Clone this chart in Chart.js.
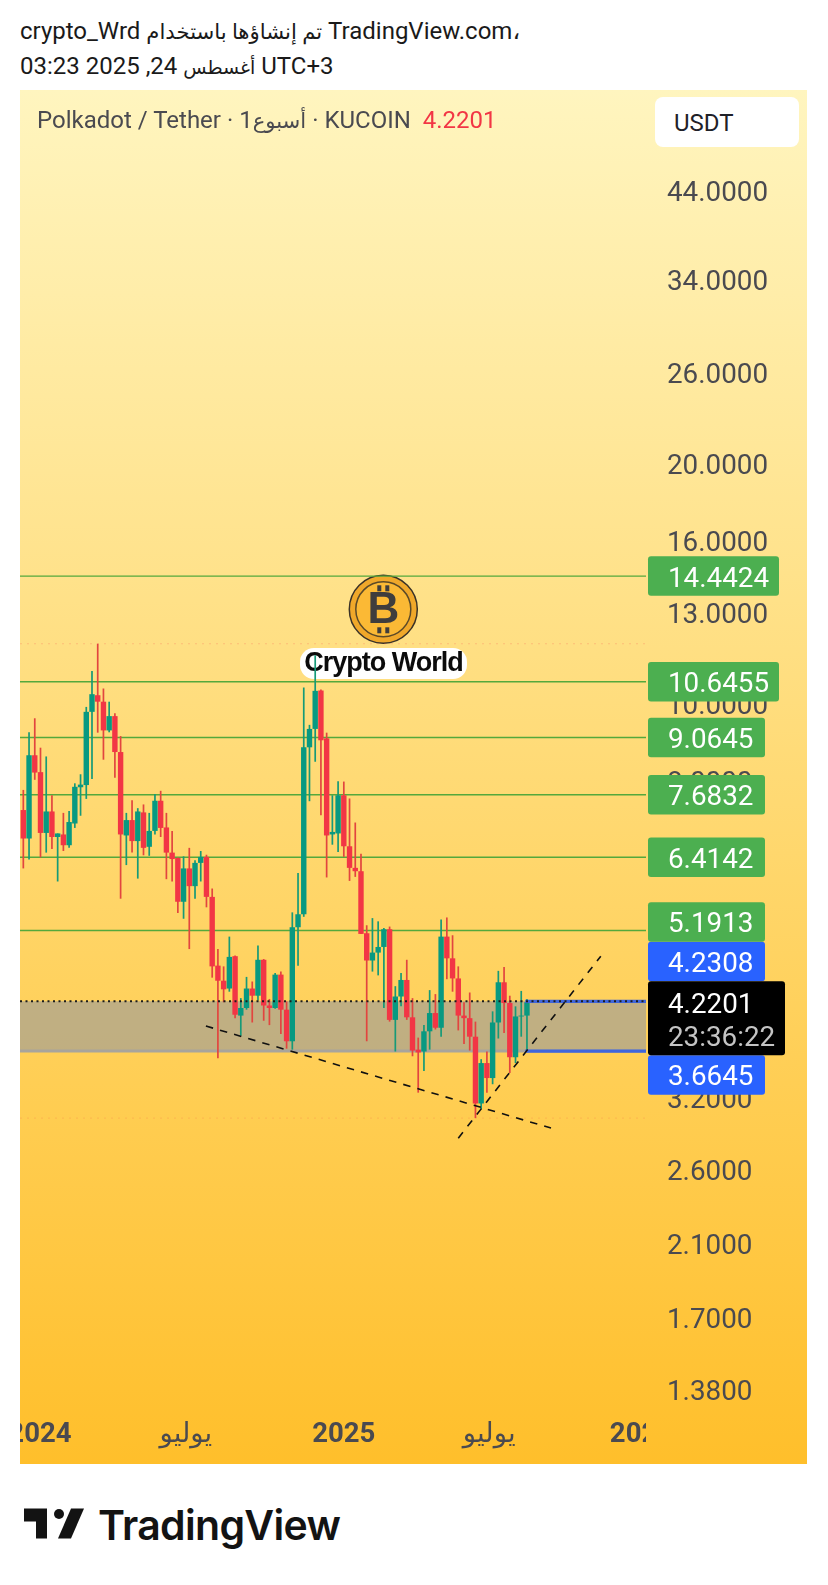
<!DOCTYPE html>
<html>
<head>
<meta charset="utf-8">
<title>Polkadot / Tether</title>
<script src="https://cdn.jsdelivr.net/npm/chart.js@4"></script>
<style>
  html, body { margin: 0; padding: 0; background: #fff; }
  body { width: 828px; height: 1585px; position: relative; overflow: hidden; font-family: Roboto, "DejaVu Sans", sans-serif; }
  .abs { position: absolute; white-space: nowrap; }
  .ar { font-size: 21.2px; }
  .ar2 { font-size: 19px; }
  #head { left: 20px; top: 14px; font-size: 24px; line-height: 34px; color: #1a1a1a; direction: ltr; }
  #chartBox { position: absolute; left: 20px; top: 90px; width: 787px; height: 1374px; }
  #pane { left: 37px; top: 106px; font-size: 24px; color: #4a4a50; direction: ltr; }
  #pane b { font-weight: 400; color: #f23645; margin-left: 6px; }
  #unit { left: 655px; top: 97px; width: 144px; height: 50px; line-height: 53px; background: #fff; border-radius: 8px; font-size: 24px; color: #1f2128; text-indent: 19px; }
  #brand { left: 98px; top: 1500px; font: 600 41px Inter, Roboto, sans-serif; letter-spacing: -0.7px; color: #131313; }
</style>
</head>
<body>
<div id="head" class="abs">
  <div>crypto_Wrd <bdi class="ar">تم إنشاؤها باستخدام</bdi> TradingView.com،</div>
  <div><bdi dir="ltr">03:23 2025 ,24</bdi> <bdi class="ar2">أغسطس</bdi> UTC+3</div>
</div>
<div id="chartBox"><canvas id="chart" width="787" height="1374"></canvas></div>
<div id="pane" class="abs">Polkadot / Tether · 1<bdi class="ar">أسبوع</bdi> · KUCOIN <b>4.2201</b></div>
<div id="unit" class="abs">USDT</div>
<svg class="abs" style="left:24px;top:1508px" width="60" height="31" viewBox="0 0 60 30" fill="#131313">
  <polygon points="0,0 23,0 23,30 12,30 12,13 0,13"/><circle cx="35" cy="5.5" r="5"/><polygon points="47,0 60,0 47,30 34,30"/>
</svg>
<div id="brand" class="abs">TradingView</div>

<script>
// weekly candles
const opens = [7.35,6.77,8.61,8.20,6.88,7.32,6.80,6.85,6.64,7.07,7.85,7.90,9.76,10.24,10.05,9.25,9.64,8.69,6.83,7.14,6.72,7.30,6.61,6.92,7.55,6.99,6.50,6.40,5.64,6.21,5.90,6.31,6.42,5.72,4.69,4.49,
  4.39,4.82,4.06,4.15,4.39,4.30,4.77,4.18,4.15,4.57,4.13,3.77,5.24,5.44,8.81,9.29,10.38,9.04,6.85,6.87,7.67,6.62,6.22,6.16,5.15,4.76,4.87,4.95,5.21,4.01,4.29,4.50,4.04,3.68,3.66,3.88,4.09,3.92,5.10,4.79,4.52,4.06,4.03,3.82,3.15,3.54,3.39,3.98,4.47,4.21,3.60,4.05,4.06];
const highs = [7.79,9.20,9.58,8.80,8.58,7.67,6.87,7.29,7.33,7.94,8.15,9.90,10.98,11.88,10.44,10.05,9.72,9.10,7.29,7.56,7.39,7.47,7.29,7.70,7.77,7.29,6.92,6.41,6.43,6.59,6.36,6.53,6.46,5.86,4.92,4.68,
  5.10,4.83,4.27,4.54,4.48,4.97,4.78,4.26,4.59,4.61,4.23,5.47,6.13,10.47,9.40,11.49,10.41,9.19,7.67,7.99,7.98,7.60,7.09,6.48,5.27,5.38,5.33,5.23,5.25,4.42,4.59,4.77,4.27,3.81,3.95,4.37,4.32,5.36,5.39,5.12,4.68,4.22,4.34,3.99,3.58,3.66,4.11,4.62,4.67,4.30,4.17,4.36,4.26];
const lows = [6.21,6.37,8.02,6.41,6.50,6.57,5.98,6.53,6.59,6.98,7.23,7.59,8.04,9.19,8.50,9.20,8.07,5.69,6.27,6.50,6.03,6.45,6.44,6.85,6.80,6.02,5.98,5.46,5.37,4.92,5.69,5.98,5.55,4.53,3.59,4.22,
  4.35,4.03,3.83,4.13,3.98,4.24,4.00,3.95,4.14,3.85,3.69,3.68,4.69,5.40,7.54,8.45,7.24,6.05,6.65,6.51,6.42,5.99,6.06,5.14,3.77,4.61,4.56,4.15,3.99,3.66,4.17,4.01,3.61,3.25,3.46,3.68,3.90,3.82,4.51,4.35,3.89,3.74,3.67,3.02,3.10,3.25,3.33,3.80,3.86,3.44,3.54,3.82,3.67];
const closes = [6.77,8.61,8.19,6.88,7.32,6.80,6.87,6.64,7.10,7.86,7.91,9.76,10.27,10.05,9.25,9.64,8.69,6.85,7.14,6.72,7.32,6.59,6.92,7.55,6.98,6.50,6.38,5.64,6.21,5.90,6.31,6.42,5.72,4.68,4.49,4.38,
  4.81,4.07,4.15,4.39,4.30,4.77,4.18,4.15,4.57,4.13,3.77,5.24,5.44,8.81,9.29,10.37,8.99,6.83,6.90,7.67,6.62,6.22,6.16,5.14,4.76,4.87,4.95,5.21,4.01,4.29,4.50,4.04,3.67,3.65,3.88,4.09,3.92,5.10,4.79,4.52,4.06,4.03,3.82,3.15,3.54,3.39,3.98,4.47,4.21,3.60,4.05,4.06,4.2201];

const yTicks = [44, 34, 26, 20, 16, 13, 10, 8, 3.2, 2.6, 2.1, 1.7, 1.38];
const xTicks = [2.9, 28.4, 56, 81.4, 108];
const xLabels = ['2024', 'يوليو', '2025', 'يوليو', '2026'];

const greenLevels = [14.4424, 10.6455, 9.0645, 7.6832, 6.4142, 5.1913];
const zoneTop = 4.2308;
const zoneBottom = 3.6645;
const lastPrice = 4.2201;
const countdown = '23:36:22';
const highMark = 11.88;
const lowMark = 3.02;

// drawn trend lines: [week, price]
const fallingLine = [[31.9, 3.94], [92.2, 2.934]];
const risingLine = [[76.0, 2.85], [100.9, 4.82]];

const xMin = -0.58, xMax = 108.8, yMax = 58.78, yMin = 1.30;
const bull = '#089981', bear = '#f23645';

const indices = opens.map((_, i) => i);
const candleColors = indices.map(i => closes[i] >= opens[i] ? bull : bear);
const wickColors = indices.map(i => closes[i] >= opens[i] ? '#169a78' : '#e2453f');

function hLine(price, from, to, color, width, dash, order, extra) {
  return Object.assign({
    type: 'line',
    data: [{ x: from, y: price }, { x: to, y: price }],
    borderColor: color,
    borderWidth: width,
    borderDash: dash || [],
    pointRadius: 0,
    order: order
  }, extra || {});
}

function trend(points, dash) {
  return {
    type: 'line',
    data: points.map(p => ({ x: p[0], y: p[1] })),
    borderColor: '#111',
    borderWidth: 1.6,
    borderDash: dash,
    pointRadius: 0,
    order: 0
  };
}

function roundBox(ctx, x, y, w, h, r, color) {
  ctx.fillStyle = color;
  ctx.beginPath();
  ctx.roundRect(x, y, w, h, r);
  ctx.fill();
}

function bgGradient(c) {
  const g = c.ctx.createLinearGradient(0, 0, 0, c.height);
  g.addColorStop(0, '#fff5bf');
  g.addColorStop(1, '#ffbf2b');
  return g;
}

function drawCoin(ctx) {
  const cx = 363.3, cy = 519.3;
  ctx.save();
  ctx.beginPath(); ctx.arc(cx, cy, 34, 0, Math.PI * 2);
  ctx.fillStyle = '#f0a82a'; ctx.fill();
  ctx.lineWidth = 1.5; ctx.strokeStyle = '#3a3228'; ctx.stroke();
  ctx.beginPath(); ctx.arc(cx, cy, 27.5, 0, Math.PI * 2);
  ctx.fillStyle = '#fbb935'; ctx.fill();
  ctx.lineWidth = 1.5; ctx.strokeStyle = '#5c4a28'; ctx.stroke();
  ctx.fillStyle = '#3f3d3d';
  [-6, 2].forEach(dx => {
    ctx.fillRect(cx + dx, cy - 24, 4, 48);
  });
  ctx.font = '700 44px "Liberation Sans"';
  ctx.textAlign = 'center';
  ctx.textBaseline = 'middle';
  ctx.fillStyle = '#fbb935';
  ctx.fillRect(cx - 8, cy - 18, 16, 36);
  ctx.fillStyle = '#3f3d3d';
  ctx.fillText('B', cx, cy + 2);
  ctx.restore();
}

const decorPlugin = {
  id: 'decor',
  beforeDraw(c) {
    c.ctx.save();
    c.ctx.fillStyle = bgGradient(c);
    c.ctx.fillRect(0, 0, c.width, c.height);
    c.ctx.restore();
  },
  beforeDatasetsDraw(c) {
    const ctx = c.ctx;
    // the time axis is cut where the pane ends
    ctx.save();
    ctx.fillStyle = bgGradient(c);
    ctx.fillRect(c.chartArea.right, c.chartArea.bottom, c.width - c.chartArea.right, c.height - c.chartArea.bottom);
    drawCoin(ctx);
    roundBox(ctx, 280, 558, 167, 31, 14, '#fff');
    ctx.fillStyle = '#0b0b0b';
    ctx.font = '700 27px "Liberation Sans"';
    ctx.letterSpacing = '-1px';
    ctx.textAlign = 'center';
    ctx.textBaseline = 'middle';
    ctx.fillText('Crypto World', 363.5, 574);
    ctx.restore();
  },
  afterDraw(c) {
    const ctx = c.ctx, y = c.scales.y;
    const left = c.chartArea.right + 2, h = 39.5, textX = left + 20;
    ctx.save();
    ctx.font = '400 27.8px Roboto';
    ctx.textBaseline = 'middle';
    ctx.textAlign = 'left';

    const lastY = y.getPixelForValue(lastPrice);
    const blackTop = lastY - 21, blackBottom = lastY + 53;

    // price tags get pushed away from each other as on the real chart
    let limit = blackTop;
    const upper = [zoneTop].concat(greenLevels.slice().reverse());
    upper.forEach(p => {
      const py = y.getPixelForValue(p);
      const cy = Math.min(py, limit - h / 2);
      limit = cy - h / 2;
      const isBlue = p === zoneTop;
      const wide = p >= 10;
      roundBox(ctx, left, cy - h / 2, wide ? 131 : 117, h, 3, isBlue ? '#2962ff' : '#4caf50');
      ctx.fillStyle = '#fff';
      ctx.fillText(p.toFixed(4), textX, cy + 3.5);
    });

    const lowCy = Math.max(y.getPixelForValue(zoneBottom), blackBottom + h / 2);
    roundBox(ctx, left, lowCy - h / 2, 117, h, 3, '#2962ff');
    ctx.fillStyle = '#fff';
    ctx.fillText(zoneBottom.toFixed(4), textX, lowCy + 3.5);

    roundBox(ctx, left, blackTop, 137, blackBottom - blackTop, 3, '#000');
    ctx.fillStyle = '#fff';
    ctx.fillText(lastPrice.toFixed(4), textX, lastY + 3.5);
    ctx.fillStyle = '#c4c4c4';
    ctx.fillText(countdown, textX, lastY + 37);
    ctx.restore();
  }
};

const greenSets = greenLevels.map(p => hLine(p, xMin, xMax, '#55a83c', 1.4, [], 6));

new Chart(document.getElementById('chart'), {
  type: 'bar',
  data: {
    datasets: [
      hLine(zoneTop, xMin, xMax, 'rgba(0,0,0,0)', 0, [], 8, { fill: { value: zoneBottom }, backgroundColor: 'rgba(129,142,170,0.5)' }),
      ...greenSets,
      hLine(highMark, xMin, xMax, 'rgba(242,54,69,0.2)', 1.2, [2, 5], 7),
      hLine(lowMark, xMin, xMax, 'rgba(242,54,69,0.12)', 1.2, [2, 5], 7),
      hLine(zoneBottom, xMin, xMax, '#a8a49c', 3, [], 5),
      {
        type: 'bar',
        data: indices.map(i => ({ x: i, y: [lows[i], highs[i]] })),
        backgroundColor: wickColors,
        barThickness: 1.7,
        grouped: false,
        inflateAmount: 0,
        order: 3
      },
      {
        type: 'bar',
        data: indices.map(i => ({ x: i, y: [opens[i], closes[i]] })),
        backgroundColor: candleColors,
        barThickness: 5.4,
        grouped: false,
        inflateAmount: 0,
        order: 2
      },
      hLine(zoneTop, 87.7, xMax, '#3f66dc', 3.2, [], 1),
      hLine(zoneBottom, 87.7, xMax, '#3f66dc', 3.2, [], 1),
      hLine(zoneTop, xMin, xMax, '#1c1c1c', 2, [2, 3.5], 0),
      trend(fallingLine, [7.5, 7.2]),
      trend(risingLine, [7.5, 7.5])
    ]
  },
  options: {
    responsive: false,
    animation: false,
    devicePixelRatio: 1,
    layout: { padding: 0 },
    plugins: { legend: { display: false }, tooltip: { enabled: false } },
    scales: {
      x: {
        type: 'linear',
        min: xMin,
        max: xMax,
        offset: false,
        grid: { display: false, drawTicks: false },
        border: { display: false },
        afterBuildTicks: s => { s.ticks = xTicks.map(v => ({ value: v })); },
        afterFit: s => { s.height = 54; s.paddingLeft = 0; s.paddingRight = 0; },
        ticks: {
          autoSkip: false,
          maxRotation: 0,
          minRotation: 0,
          padding: 9,
          color: '#4a4a50',
          font: ctx => ({ family: 'Roboto, "DejaVu Sans"', size: 27.5, weight: ctx.index % 2 === 0 ? '700' : '400' }),
          callback: (v, i) => xLabels[i]
        }
      },
      y: {
        type: 'logarithmic',
        position: 'right',
        min: yMin,
        max: yMax,
        grid: { display: false, drawTicks: false },
        border: { display: false },
        afterBuildTicks: s => { s.ticks = yTicks.map(v => ({ value: v })); },
        afterFit: s => { s.width = 161; s.paddingTop = 0; s.paddingBottom = 0; },
        ticks: {
          autoSkip: false,
          padding: 21,
          labelOffset: 3.5,
          color: '#4a4a50',
          font: { family: 'Roboto', size: 27.8 },
          callback: v => Number(v).toFixed(4)
        }
      }
    }
  },
  plugins: [decorPlugin]
});
</script>
</body>
</html>
